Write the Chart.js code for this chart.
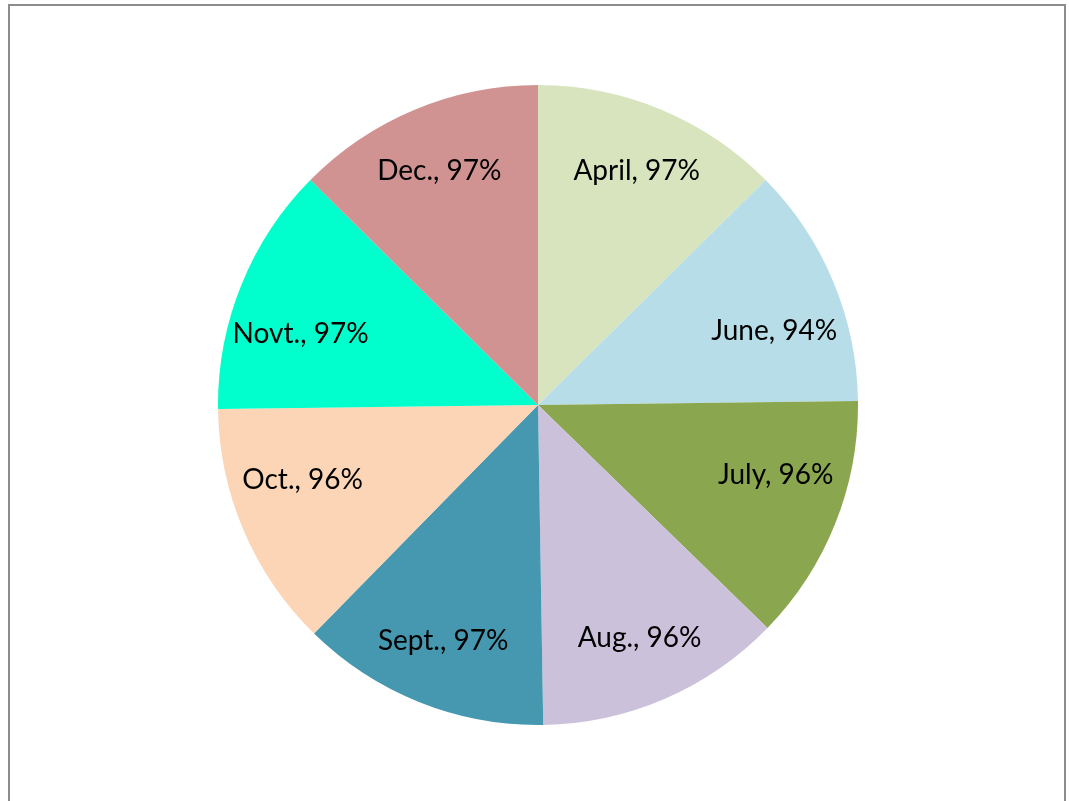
<!DOCTYPE html>
<html>
<head>
<meta charset="utf-8">
<script src="https://cdn.jsdelivr.net/npm/chart.js@4/dist/chart.umd.min.js"></script>
<style>
  html, body { margin: 0; padding: 0; background: #fff; width: 1069px; height: 801px; overflow: hidden; }
  .frame { position: absolute; left: 8px; top: 4px; width: 1054px; height: 810px; border: 2px solid #8c8c8c; border-bottom: none; }
  .pie { position: absolute; left: 218px; top: 85px; width: 640px; height: 640px; }
</style>
</head>
<body>
<div class="frame"></div>
<div class="pie"><canvas id="chart"></canvas></div>
<script>
// months and their percentages, clockwise from 12 o'clock
const months = ["April", "June", "July", "Aug.", "Sept.", "Oct.", "Novt.", "Dec."];
const percents = [97, 94, 96, 96, 97, 96, 97, 97];
const sliceColors = ["#D7E4BD", "#B7DEE8", "#8AA64F", "#CCC1DA", "#4598AF", "#FBD5B5", "#00FFCC", "#D19391"];

// draws "Month, NN%" inside each slice, roughly where Excel's best fit puts it
const sliceLabels = {
    id: "sliceLabels",
    afterDatasetsDraw(chart) {
        const ctx = chart.ctx;
        const arcs = chart.getDatasetMeta(0).data;
        ctx.save();
        ctx.font = "28px Lato";
        ctx.fillStyle = "#000";
        ctx.textAlign = "center";
        ctx.textBaseline = "middle";
        arcs.forEach((arc, i) => {
            const mid = (arc.startAngle + arc.endAngle) / 2;
            const r = arc.outerRadius * 0.8;
            const c = Math.cos(mid);
            const pull = 1 - 0.35 * Math.pow(c, 4);
            const x = arc.x + r * c;
            const y = arc.y + r * Math.sin(mid) * pull;
            ctx.fillText(`${months[i]}, ${percents[i]}%`, x, y);
        });
        ctx.restore();
    },
};

new Chart(document.getElementById("chart").getContext("2d"), {
    type: "pie",
    data: {
        labels: months,
        datasets: [{
            data: percents,
            backgroundColor: sliceColors,
            borderWidth: 0,
        }],
    },
    options: {
        responsive: true,
        maintainAspectRatio: false,
        animation: false,
        layout: { padding: 0 },
        plugins: {
            legend: { display: false },
            tooltip: { enabled: false },
        },
    },
    plugins: [sliceLabels],
});
</script>
</body>
</html>
